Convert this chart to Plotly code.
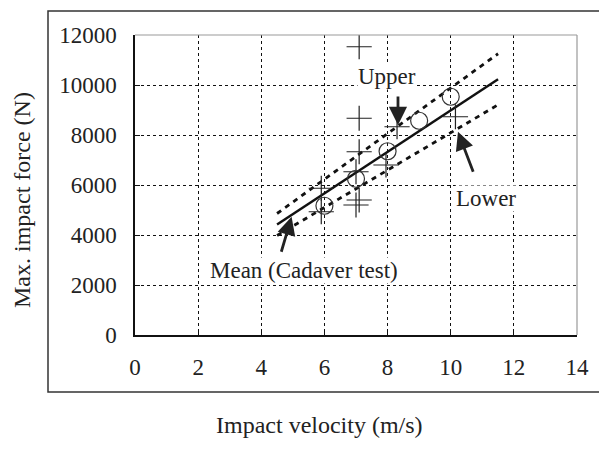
import plotly.graph_objects as go

# ---- data ----
line_x = [4.5, 11.5]
mean_y = [4420, 10230]
upper_y = [4860, 11250]
lower_y = [3980, 9210]

circle_x = [6, 7, 8, 9, 10]
circle_y = [5170, 6250, 7350, 8570, 9530]

plus_x = [5.9, 5.9, 7.0, 7.0, 7.1, 7.1, 7.1, 7.1, 7.95, 8.3, 10.15]
plus_y = [5870, 4930, 6530, 5200, 5400, 7330, 8670, 11530, 6800, 8330, 8730]

x_ticks = [0, 2, 4, 6, 8, 10, 12, 14]
y_ticks = [0, 2000, 4000, 6000, 8000, 10000, 12000]

FONT = "Liberation Serif, Times New Roman, serif"
INK = "#222222"

# plot area in pixels
L, R, T, B = 135, 577, 35, 335
W, H = R - L, B - T


def px(xp):
    return (xp - L) / W


def py(yp):
    return (B - yp) / H


fig = go.Figure()
fig.add_trace(go.Scatter(x=line_x, y=upper_y, mode="lines",
                         line=dict(color="#111", width=2.8, dash="5px,5px")))
fig.add_trace(go.Scatter(x=line_x, y=lower_y, mode="lines",
                         line=dict(color="#111", width=2.8, dash="5px,5px")))
fig.add_trace(go.Scatter(x=line_x, y=mean_y, mode="lines",
                         line=dict(color="#111", width=2.5)))
fig.add_trace(go.Scatter(x=plus_x, y=plus_y, mode="markers",
                         marker=dict(symbol="cross-thin", size=18, color=INK,
                                     line=dict(color=INK, width=1.2))))
fig.add_trace(go.Scatter(x=circle_x, y=circle_y, mode="markers",
                         marker=dict(symbol="circle-open", size=17, color="#333",
                                     line=dict(color="#333", width=1.2))))

# arrows: (tip, tail)
arrows = [
    ((8.33, 8400), (8.33, 9600)),
    ((10.23, 8130), (10.73, 6470)),
    ((4.96, 4730), (4.62, 3270)),
]
for (tx, ty), (sx, sy) in arrows:
    fig.add_annotation(x=tx, y=ty, ax=sx, ay=sy, xref="x", yref="y",
                       axref="x", ayref="y", text="", showarrow=True,
                       arrowhead=2, arrowsize=1.3, arrowwidth=2.8,
                       arrowcolor="#222")

labels = [
    ("Upper", 7.98, 10360),
    ("Lower", 11.13, 5470),
    ("Mean (Cadaver test)", 5.35, 2600),
]
for t, lx, ly in labels:
    fig.add_annotation(x=lx, y=ly, xref="x", yref="y", text=t, showarrow=False,
                       font=dict(family=FONT, size=23, color=INK),
                       bgcolor="white", borderpad=0)

# axis titles
fig.add_annotation(x=px(319), y=py(425), xref="paper", yref="paper",
                   xanchor="center", yanchor="middle",
                   text="Impact velocity (m/s)", showarrow=False,
                   font=dict(family=FONT, size=24, color=INK))
fig.add_annotation(x=px(22), y=py(200), xref="paper", yref="paper",
                   xanchor="center", yanchor="middle",
                   text="Max. impact force (N)", showarrow=False, textangle=-90,
                   font=dict(family=FONT, size=24, color=INK))

# plot frame top/right grey
fig.add_shape(type="line", xref="paper", yref="paper", x0=0, x1=1, y0=1, y1=1,
              line=dict(color="#999", width=1.2))
fig.add_shape(type="line", xref="paper", yref="paper", x0=1, x1=1, y0=0, y1=1,
              line=dict(color="#999", width=1.2))
# outer box
fig.add_shape(type="rect", xref="paper", yref="paper",
              x0=px(48), x1=px(640), y0=py(392), y1=py(11),
              line=dict(color="#333", width=1.5))

axis_common = dict(showgrid=True, gridcolor="#111", griddash="dot", gridwidth=1,
                   showline=True, linecolor="#111", linewidth=1.5,
                   ticks="inside", ticklen=5, tickcolor="#111", zeroline=False,
                   automargin=False,
                   tickfont=dict(family=FONT, size=23, color=INK))

fig.update_xaxes(range=[0, 14], tickvals=x_ticks,
                 ticktext=[str(v) for v in x_ticks], **axis_common,
                 ticklabelstandoff=11)
fig.update_yaxes(range=[0, 12000], tickvals=y_ticks,
                 ticktext=[str(v) for v in y_ticks], **axis_common,
                 ticklabelstandoff=12)

fig.update_layout(width=599, height=454, showlegend=False,
                  margin=dict(l=L, r=599 - R, t=T, b=454 - B, autoexpand=False),
                  plot_bgcolor="white", paper_bgcolor="white")

fig.write_html("out.html", config={"displayModeBar": False},
               post_script="document.body.style.margin='0';"
                           "document.body.style.overflow='hidden';")
